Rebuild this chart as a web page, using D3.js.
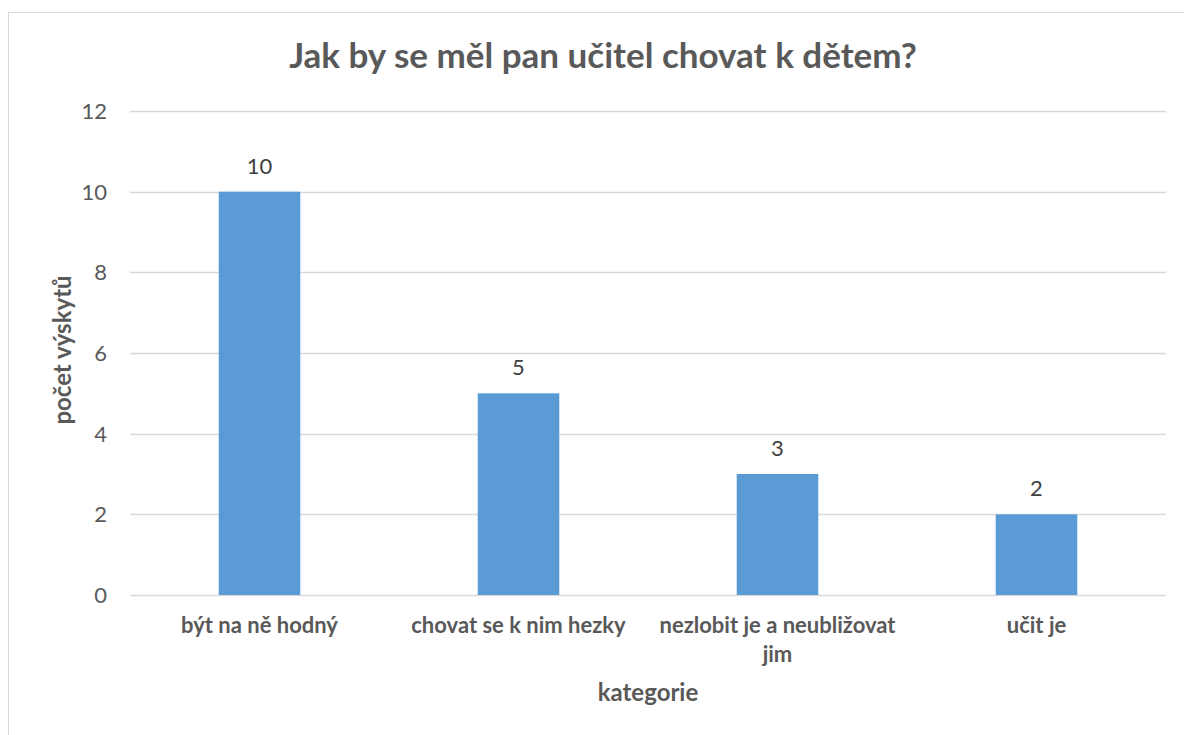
<!DOCTYPE html>
<html>
<head>
<meta charset="utf-8">
<script src="https://d3js.org/d3.v7.min.js"></script>
<style>
  body { margin: 0; background: #fff; }
  text { font-family: Lato, "Open Sans", sans-serif; fill: #595959; }
</style>
</head>
<body>
<svg id="chart" width="1184" height="735"></svg>
<script>
// values
const categories = ['být na ně hodný', 'chovat se k nim hezky', 'nezlobit je a neubližovat jim', 'učit je'];
const counts = [10, 5, 3, 2];
const yTicks = [0, 2, 4, 6, 8, 10, 12];

const title = 'Jak by se měl pan učitel chovat k dětem?';
const xTitle = 'kategorie';
const yTitle = 'počet výskytů';

const svg = d3.select('svg#chart');

const W = 1184, H = 735;
const plotL = 130, plotR = 1166, plotT = 111, plotB = 595;

// chart frame
svg.append('rect')
    .attr('x', 8.5).attr('y', 12.5)
    .attr('width', W).attr('height', H)
    .attr('fill', 'none')
    .attr('stroke', '#d9d9d9');

let x = d3.scaleBand()
    .domain(categories)
    .range([plotL, plotR])
    .paddingInner(0.685)
    .paddingOuter(0.3425);

let y = d3.scaleLinear()
    .domain([0, 12])
    .range([plotB, plotT]);

// gridlines
svg.append('g')
    .selectAll('line')
    .data(yTicks)
    .enter().append('line')
    .attr('x1', plotL).attr('x2', plotR)
    .attr('y1', d => Math.round(y(d)) + 0.5)
    .attr('y2', d => Math.round(y(d)) + 0.5)
    .attr('stroke', '#d9d9d9')
    .attr('stroke-width', 1.3);

// y tick labels
svg.append('g')
    .selectAll('text')
    .data(yTicks)
    .enter().append('text')
    .attr('x', 107)
    .attr('y', d => y(d))
    .attr('dy', '0.36em')
    .attr('text-anchor', 'end')
    .style('font-size', '22px')
    .text(d => d);

// bars
svg.append('g')
    .selectAll('rect')
    .data(counts)
    .enter().append('rect')
    .attr('x', (d, i) => x(categories[i]))
    .attr('width', x.bandwidth())
    .attr('y', d => y(d))
    .attr('height', d => y(0) - y(d))
    .attr('fill', '#5b9bd5');

// value labels
svg.append('g')
    .selectAll('text')
    .data(counts)
    .enter().append('text')
    .attr('x', (d, i) => x(categories[i]) + x.bandwidth() / 2)
    .attr('y', d => y(d) - 18)
    .attr('text-anchor', 'middle')
    .style('font-size', '22px')
    .style('fill', '#404040')
    .text(d => d);

// category labels, wrapped
const maxW = 250;
let cat = svg.append('g')
    .selectAll('text')
    .data(categories)
    .enter().append('text')
    .attr('x', d => x(d) + x.bandwidth() / 2)
    .attr('y', 633)
    .attr('text-anchor', 'middle')
    .style('font-size', '22px')
    .style('font-weight', 'bold');

cat.each(function(d) {
    let t = d3.select(this);
    let cx = t.attr('x');
    let words = d.split(' ');
    let line = [];
    let ts = t.append('tspan').attr('x', cx).attr('dy', 0);
    words.forEach(function(w) {
        line.push(w);
        ts.text(line.join(' '));
        if (ts.node().getComputedTextLength() > maxW && line.length > 1) {
            line.pop();
            ts.text(line.join(' '));
            line = [w];
            ts = t.append('tspan').attr('x', cx).attr('dy', 29).text(w);
        }
    });
});

// titles
svg.append('text')
    .attr('x', 603).attr('y', 68)
    .attr('text-anchor', 'middle')
    .style('font-size', '35px')
    .style('font-weight', 'bold')
    .text(title);

svg.append('text')
    .attr('x', 648).attr('y', 701)
    .attr('text-anchor', 'middle')
    .style('font-size', '24px')
    .style('font-weight', 'bold')
    .text(xTitle);

svg.append('text')
    .attr('transform', 'translate(71,350) rotate(-90)')
    .attr('text-anchor', 'middle')
    .style('font-size', '24px')
    .style('font-weight', 'bold')
    .text(yTitle);
</script>
</body>
</html>
